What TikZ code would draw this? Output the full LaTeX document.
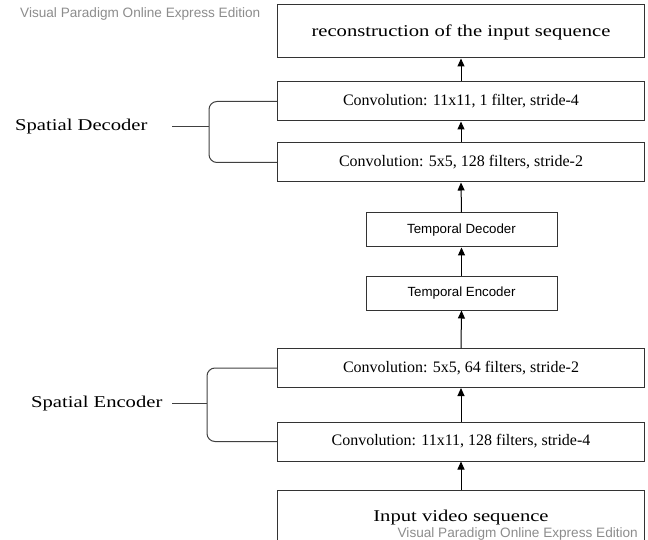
\documentclass[tikz,border=0pt]{standalone}
\usepackage{fontspec}
\setmainfont{Liberation Serif}
\newfontfamily\widefont[FakeStretch=1.25]{Liberation Serif}
\newfontfamily\vpfont{Liberation Sans}
\usetikzlibrary{arrows.meta}
\tikzset{
  layer/.style={draw=black!80,line width=1pt,minimum width=367pt,minimum height=39pt,
    inner sep=0pt,font=\fontsize{16}{18}\selectfont},
  bigbox/.style={layer,minimum height=53pt,font=\widefont\fontsize{16.5}{19}\selectfont},
  temporal/.style={layer,minimum width=191pt,minimum height=34pt,
    font=\vpfont\fontsize{13.3}{15}\selectfont},
  lbl/.style={anchor=base west,inner sep=0pt,font=\widefont\fontsize{16.5}{19}\selectfont},
  vpmark/.style={inner sep=0pt,text=black!45,font=\vpfont\fontsize{13.6}{15}\selectfont},
  flow/.style={-{Triangle[length=8pt,width=7pt]},line width=1pt},
  brace/.style={draw=black!75,line width=1pt,rounded corners=8pt}
}
\begin{document}
\begin{tikzpicture}[x=1pt,y=-1pt]
\useasboundingbox (0,0) rectangle (648,540);
% decoder side
\node[bigbox,text depth=1pt] (recon) at (461,31.5) {reconstruction of the input sequence};
\node[layer] (dtop) at (461,101.5) {Convolution: 11x11, 1 filter, stride-4};
\node[layer] (dbot) at (461,162.5) {Convolution: 5x5, 128 filters, stride-2};
% temporal part
\node[temporal] (tdec) at (461.5,230) {Temporal Decoder};
\node[temporal] (tenc) at (461.5,293) {Temporal Encoder};
% encoder side
\node[layer] (etop) at (461,368) {Convolution: 5x5, 64 filters, stride-2};
\node[layer] (ebot) at (461,441.5) {Convolution: 11x11, 128 filters, stride-4};
\node[bigbox,minimum height=56pt] (input) at (461,518) {Input video sequence};
\draw[flow] (input.north) -- (ebot.south);
\draw[flow] (ebot.north) -- (etop.south);
\draw[flow] (etop.north) -- (tenc.south);
\draw[flow] (tenc.north) -- (tdec.south);
\draw[flow] (tdec.north) -- (dbot.south);
\draw[flow] (dbot.north) -- (dtop.south);
\draw[flow] (dtop.north) -- (recon.south);
% group labels
\node[lbl] (sdec) at (15,131) {Spatial Decoder};
\node[lbl] (senc) at (31,407.5) {Spatial Encoder};
\coordinate (dtick) at (172,127);
\coordinate (dj) at (209,127);
\coordinate (etick) at (172,403.3);
\coordinate (ej) at (207,403.3);
\draw[brace] (dtop.west) -| (dj) |- (dbot.west);
\draw[brace] (dtick) -- (dj);
\draw[brace] (etop.west) -| (ej) |- (ebot.west);
\draw[brace] (etick) -- (ej);
% watermark
\node[vpmark,anchor=west] (wtop) at (20,14) {Visual Paradigm Online Express Edition};
\node[vpmark,anchor=east] (wbot) at (638,534) {Visual Paradigm Online Express Edition};
\end{tikzpicture}
\end{document}
